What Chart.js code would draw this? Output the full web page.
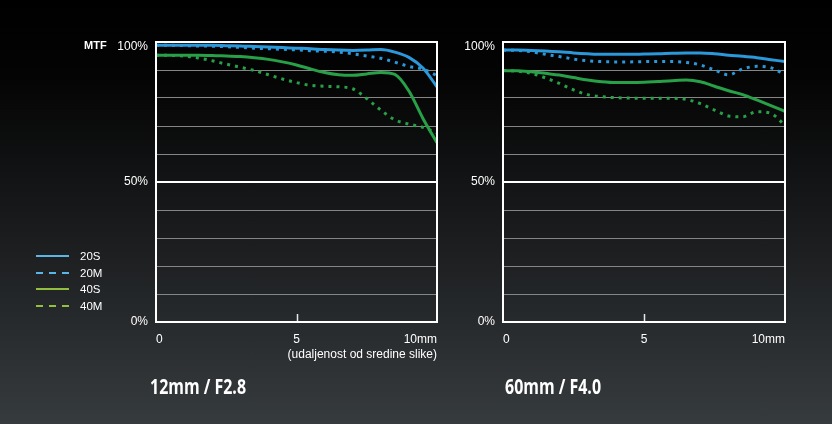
<!DOCTYPE html>
<html>
<head>
<meta charset="utf-8">
<script src="https://cdn.jsdelivr.net/npm/chart.js@4/dist/chart.umd.min.js"></script>
<style>
  html, body { margin: 0; padding: 0; }
  body {
    width: 832px; height: 424px; position: relative; overflow: hidden;
    background: linear-gradient(to bottom, #000 0%, #040404 18%, #1d1f21 60%, #363b3d 100%);
    font-family: "Liberation Sans", Arial, sans-serif; color: #fff;
  }
  canvas { position: absolute; top: 0; }
  #c1 { left: 0; }
  #c2 { left: 460px; }
  .txt { position: absolute; white-space: nowrap; }
  #mtf { left: 84px; top: 39px; font-weight: bold; font-size: 11px; }
  .title { font-family: "Open Sans", sans-serif; font-weight: bold; font-size: 21px; top: 372px; transform: scaleX(0.76); transform-origin: left top; }
  #t1 { left: 150px; }
  #t2 { left: 505px; }
  .legend { position: absolute; left: 36px; top: 248px; font-size: 11.5px; }
  .legend div { position: relative; height: 16.7px; line-height: 16px; padding-left: 44px; }
  .legend span { position: absolute; left: 0; top: 7px; width: 33px; height: 0; border-top: 2px solid; }
</style>
</head>
<body>
<canvas id="c1" width="460" height="424"></canvas>
<canvas id="c2" width="372" height="424"></canvas>
<div class="txt" id="mtf">MTF</div>
<div class="txt title" id="t1">12mm / F2.8</div>
<div class="txt title" id="t2">60mm / F4.0</div>
<div class="legend" id="legend"></div>
<script>
// distance from image centre (mm)
const positions = [0,0.5,1,1.5,2,2.5,3,3.5,4,4.5,5,5.5,6,6.5,7,7.5,8,8.5,9,9.5,10];
const seriesNames = ['20S','20M','40S','40M'];
const xTicks = [0, 5, 10];
const yTickLabels = [0, 50, 100];

// 12mm / F2.8
const left20S = [98.8,98.8,98.8,98.8,98.8,98.7,98.6,98.4,98.2,98.0,97.8,97.6,97.3,97.1,97.0,97.1,97.3,96.4,94.5,90.7,84.0];
const left20M = [98.8,98.8,98.7,98.6,98.5,98.3,98.1,97.8,97.6,97.4,97.2,96.9,96.7,96.4,95.8,95.0,94.2,92.8,91.3,90.3,88.0];
const left40S = [95.3,95.3,95.3,95.3,95.2,95.0,94.8,94.4,93.8,92.9,91.8,90.4,89.1,88.3,88.1,88.6,89.1,88.4,82.5,72.7,64.0];
const left40M = [95.3,95.2,95.0,94.3,93.3,92.1,91.0,89.8,88.3,86.8,85.5,84.5,84.2,84.0,83.3,79.8,75.7,72.2,70.7,69.5,67.5];

// 60mm / F4.0
const right20S = [97.1,97.1,97.0,96.8,96.5,96.1,95.8,95.6,95.6,95.6,95.7,95.8,96.0,96.1,96.1,95.8,95.3,94.9,94.4,93.7,93.0];
const right20M = [97.1,97.0,96.5,95.6,94.8,93.9,93.3,93.0,92.9,92.9,93.0,93.0,93.0,92.7,91.8,90.0,88.3,90.4,91.3,90.8,88.3];
const right40S = [89.8,89.7,89.4,88.8,88.2,87.3,86.4,85.8,85.5,85.5,85.6,85.9,86.2,86.4,85.8,84.2,82.6,81.2,79.3,77.3,75.2];
const right40M = [89.8,89.6,88.8,87.2,85.2,82.9,81.2,80.5,80.1,80.0,79.9,79.9,79.9,79.5,78.0,75.7,73.6,73.3,75.1,74.5,70.2];

const BLUE = '#2b98da', GREEN = '#27a048';
const LEG_BLUE = '#5ab6e6', LEG_GREEN = '#93bf3e';
const styles = {
  '20S': { color: BLUE, dash: [] },
  '20M': { color: BLUE, dash: [3, 5] },
  '40S': { color: GREEN, dash: [] },
  '40M': { color: GREEN, dash: [3, 5] }
};

// legend (HTML)
const legendEl = document.getElementById('legend');
[['20S', LEG_BLUE, 'solid'], ['20M', LEG_BLUE, 'dashed'], ['40S', LEG_GREEN, 'solid'], ['40M', LEG_GREEN, 'dashed']].forEach(([n, c, s]) => {
  const d = document.createElement('div');
  const sp = document.createElement('span');
  if (s === 'dashed') {
    sp.style.borderTop = 'none';
    sp.style.height = '2px';
    sp.style.background = `repeating-linear-gradient(to right, ${c} 0 7px, transparent 7px 13px)`;
  } else {
    sp.style.borderTopColor = c;
  }
  d.appendChild(sp);
  d.appendChild(document.createTextNode(n));
  legendEl.appendChild(d);
});

function makeDatasets(arrs) {
  return seriesNames.map((n, i) => ({
    label: n,
    data: positions.map((x, j) => ({ x: x, y: arrs[i][j] })),
    borderColor: styles[n].color,
    borderDash: styles[n].dash,
    borderWidth: 3,
    pointRadius: 0,
    fill: false,
    cubicInterpolationMode: 'monotone',
    borderCapStyle: 'butt'
  }));
}

const framePlugin = {
  id: 'frame',
  beforeDatasetsDraw(chart) {
    const { ctx, chartArea: a, scales } = chart;
    ctx.save();
    // small centre tick at 5mm
    const x5 = Math.round(scales.x.getPixelForValue(xTicks[1])) + 0.5;
    ctx.strokeStyle = '#e8e8e8';
    ctx.lineWidth = 1.5;
    ctx.beginPath();
    ctx.moveTo(x5, a.bottom);
    ctx.lineTo(x5, a.bottom - 8);
    ctx.stroke();
    ctx.restore();
  },
  afterDatasetsDraw(chart) {
    const { ctx, chartArea: a } = chart;
    ctx.save();
    ctx.strokeStyle = '#ffffff';
    ctx.lineWidth = 2;
    ctx.strokeRect(a.left, a.top, a.right - a.left, a.bottom - a.top);
    ctx.restore();
  }
};

function makeChart(id, arrs, yWidth, rightPad, showTitle) {
  return new Chart(document.getElementById(id), {
    type: 'line',
    data: { datasets: makeDatasets(arrs) },
    plugins: [framePlugin],
    options: {
      responsive: false,
      animation: false,
      devicePixelRatio: 1,
      layout: { padding: { top: 42, right: rightPad, bottom: 62, left: 0 } },
      plugins: { legend: { display: false }, tooltip: { enabled: false } },
      scales: {
        x: {
          type: 'linear', min: 0, max: 10,
          afterFit: s => { s.height = 40; },
          afterBuildTicks: s => { s.ticks = xTicks.map(v => ({ value: v })); },
          grid: { display: false },
          border: { display: false },
          ticks: {
            color: '#ffffff', align: 'inner', padding: 2, maxRotation: 0,
            font: { family: 'Liberation Sans, Arial, sans-serif', size: 12 },
            callback: v => v === 10 ? '10mm' : String(v)
          },
          title: {
            display: showTitle, text: '(udaljenost od sredine slike)', align: 'end',
            color: '#ffffff', padding: 0,
            font: { family: 'Liberation Sans, Arial, sans-serif', size: 12 }
          }
        },
        y: {
          min: 0, max: 100,
          afterFit: s => { s.width = yWidth; },
          border: { display: false },
          grid: {
            drawTicks: false,
            color: c => (c.tick.value === 50 ? '#ffffff' : (c.tick.value === 0 || c.tick.value === 100 ? 'rgba(0,0,0,0)' : '#858585')),
            lineWidth: c => (c.tick.value === 50 ? 2 : 1)
          },
          ticks: {
            stepSize: 10, color: '#ffffff', padding: 8,
            font: { family: 'Liberation Sans, Arial, sans-serif', size: 12, lineHeight: 0.8 },
            callback: v => (v === 100 ? ['', v + '%'] : (yTickLabels.includes(v) ? v + '%' : ''))
          }
        }
      }
    }
  });
}

makeChart('c1', [left20S, left20M, left40S, left40M], 156, 23, true);
makeChart('c2', [right20S, right20M, right40S, right40M], 43, 47, false);
</script>
</body>
</html>
